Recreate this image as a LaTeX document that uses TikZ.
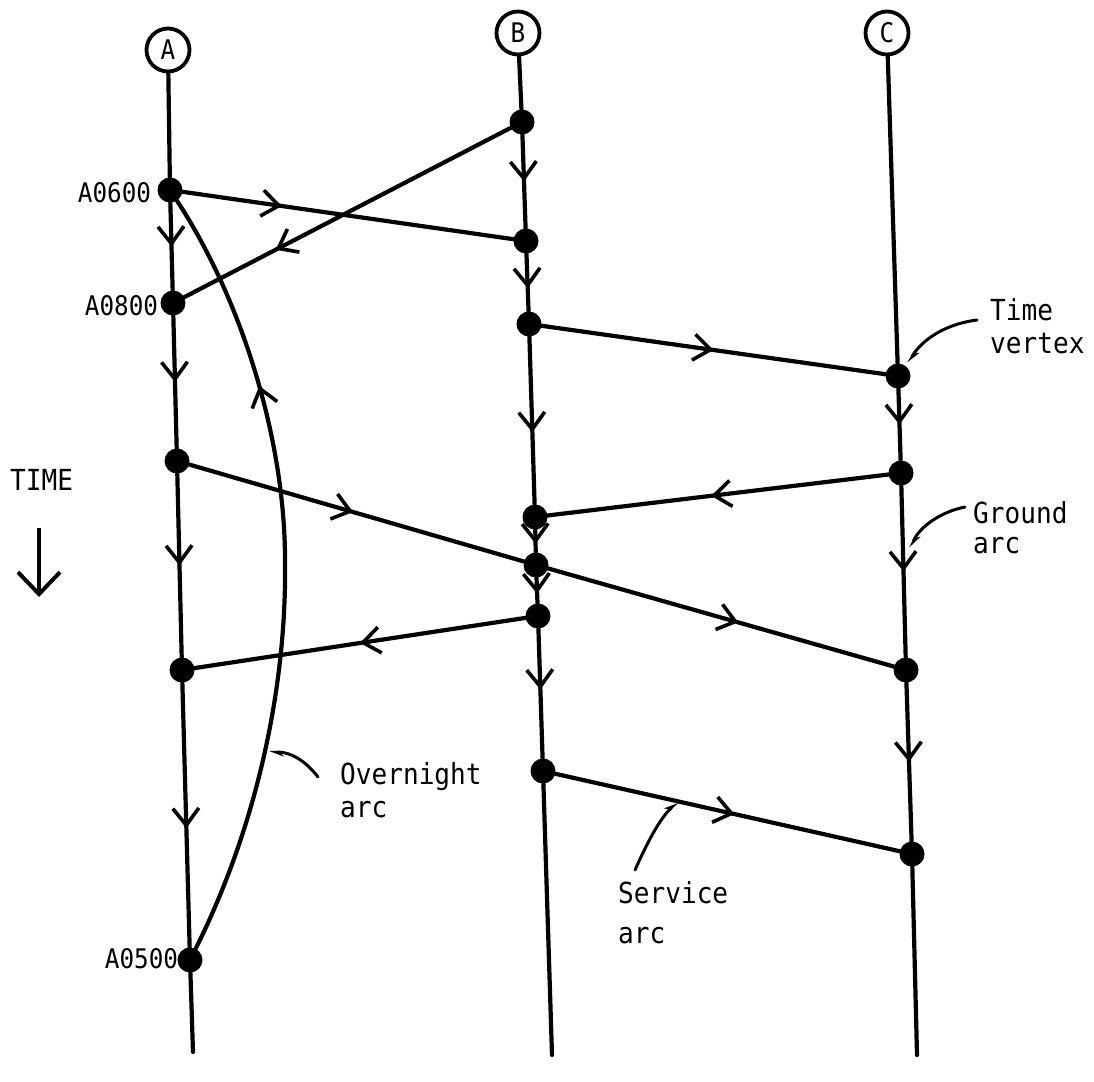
\documentclass[tikz,border=0pt]{standalone}
\usepackage{fontspec}
\usetikzlibrary{arrows.meta,decorations.markings,calc}
\newfontfamily\typefont[FakeStretch=0.9]{DejaVu Sans Mono}

\tikzset{
  trackline/.style={line width=4.2pt, line cap=round},
  flow/.style={trackline, postaction={decorate},
    decoration={markings, mark=at position #1 with
      {\arrow{Straight Barb[length=17pt,width=26pt,line width=3.6pt]}}}},
  flow/.default=0.5,
  station/.style={circle, draw, line width=3.8pt, minimum size=43pt,
    inner sep=0pt, font=\typefont\fontsize{27}{30}\selectfont},
  vtx/.style={circle, fill=black, inner sep=0pt, minimum size=25pt},
  note/.style={inner sep=0pt, align=left,
    font=\typefont\fontsize{29}{33}\selectfont},
  tag/.style={inner sep=0pt, font=\typefont\fontsize{27}{30}\selectfont},
  leader/.style={line width=3pt, line cap=round,
    -{Stealth[harpoon, length=12pt, width=9pt]}},
}

\begin{document}
\begin{tikzpicture}[x=1pt, y=-1pt]
  \useasboundingbox (0,0) rectangle (1094,1081);

  % stations
  \node[station] (cA) at (168,50) {A};
  \node[station] (cB) at (518,33) {B};
  \node[station] (cC) at (887,33) {C};
  \coordinate (Abot) at (193,1052);
  \coordinate (Bbot) at (552,1055);
  \coordinate (Cbot) at (917,1055);

  % time vertices, station A
  \node[vtx] (a1) at (170,190) {};
  \node[vtx] (a2) at (173,303) {};
  \node[vtx] (a3) at (177,461) {};
  \node[vtx] (a4) at (182,670) {};
  \node[vtx] (a5) at (190,960) {};
  % station B
  \node[vtx] (b1) at (522,122) {};
  \node[vtx] (b2) at (526,241) {};
  \node[vtx] (b3) at (529,324) {};
  \node[vtx] (b4) at (535,517) {};
  \node[vtx] (b5) at (536,565) {};
  \node[vtx] (b6) at (538,616) {};
  \node[vtx] (b7) at (543,771) {};
  % station C
  \node[vtx] (c1) at (898,376) {};
  \node[vtx] (c2) at (901,473) {};
  \node[vtx] (c3) at (906,670) {};
  \node[vtx] (c4) at (912,854) {};

  % ground arcs
  \draw[trackline] (cA) -- (a1);
  \draw[flow] (a1) -- (a2);
  \draw[flow] (a2) -- (a3);
  \draw[flow] (a3) -- (a4);
  \draw[flow=0.55] (a4) -- (a5);
  \draw[trackline] (a5) -- (Abot);

  \draw[trackline] (cB) -- (b1);
  \draw[flow] (b1) -- (b2);
  \draw[flow=0.6] (b2) -- (b3);
  \draw[flow=0.57] (b3) -- (b4);
  \draw[flow=0.62] (b4) -- (b5);
  \draw[flow=0.62] (b5) -- (b6);
  \draw[flow=0.47] (b6) -- (b7);
  \draw[trackline] (b7) -- (Bbot);

  \draw[trackline] (cC) -- (c1);
  \draw[flow] (c1) -- (c2);
  \draw[flow] (c2) -- (c3);
  \draw[flow] (c3) -- (c4);
  \draw[trackline] (c4) -- (Cbot);

  % service arcs
  \draw[flow=0.3]  (a1) -- (b2);
  \draw[flow=0.72] (b1) -- (a2);
  \draw[flow=0.5]  (b3) -- (c1);
  \draw[flow=0.52] (c2) -- (b4);
  \draw[flow=0.49] (a3) -- (b5);
  \draw[flow=0.55] (b5) -- (c3);
  \draw[flow=0.5]  (b6) -- (a4);
  \draw[flow=0.52] (b7) -- (c4);

  % overnight arc
  \coordinate (ovm) at (285,560);
  \draw[flow=0.74] (a5) .. controls (255,830) and (287,690) .. (ovm)
                        .. controls (285,440) and (242,300) .. (a1);

  % vertex labels
  \node[tag, anchor=base east] (l600) at ($(a1.west)+(-6,12)$) {A0600};
  \node[tag, anchor=base east] (l800) at ($(a2.west)+(-2,12)$) {A0800};
  \node[tag, anchor=base east] (l500) at ($(a5.west)+(1,8)$) {A0500};

  % time direction
  \node[note, anchor=base west] (time) at (10,490) {TIME};
  \coordinate (tdtop) at (39,528);
  \coordinate (tdbot) at (39,597);
  \draw[line width=4pt, -{Straight Barb[length=22pt,width=42pt]}]
    (tdtop) -- (tdbot);

  % annotations (anchored at the baseline of the last line)
  \node[note, anchor=base west] (tvx) at (990,353) {Time\\vertex};
  \coordinate (tvs) at (977,320);
  \coordinate (tve) at (908,363);
  \draw[leader] (tvs) .. controls (945,324) and (922,340) .. (tve);

  \node[note, anchor=base west, font=\typefont\fontsize{29}{30}\selectfont]
    (gra) at (973,553) {Ground\\arc};
  \coordinate (grs) at (965,507);
  \coordinate (gre) at (910,548);
  \draw[leader] (grs) .. controls (940,512) and (920,527) .. (gre);

  \node[note, anchor=base west] (ova) at (340,817) {Overnight\\arc};
  \coordinate (ovs) at (318,777);
  \coordinate (ove) at (269,752);
  \draw[leader] (ovs) .. controls (305,760) and (290,752) .. (ove);

  \node[note, anchor=base west, font=\typefont\fontsize{29}{40}\selectfont]
    (sva) at (618,943) {Service\\arc};
  \coordinate (svs) at (635,870);
  \coordinate (sve) at (678,802);
  \draw[leader] (svs) .. controls (647,843) and (660,818) .. (sve);
\end{tikzpicture}
\end{document}
